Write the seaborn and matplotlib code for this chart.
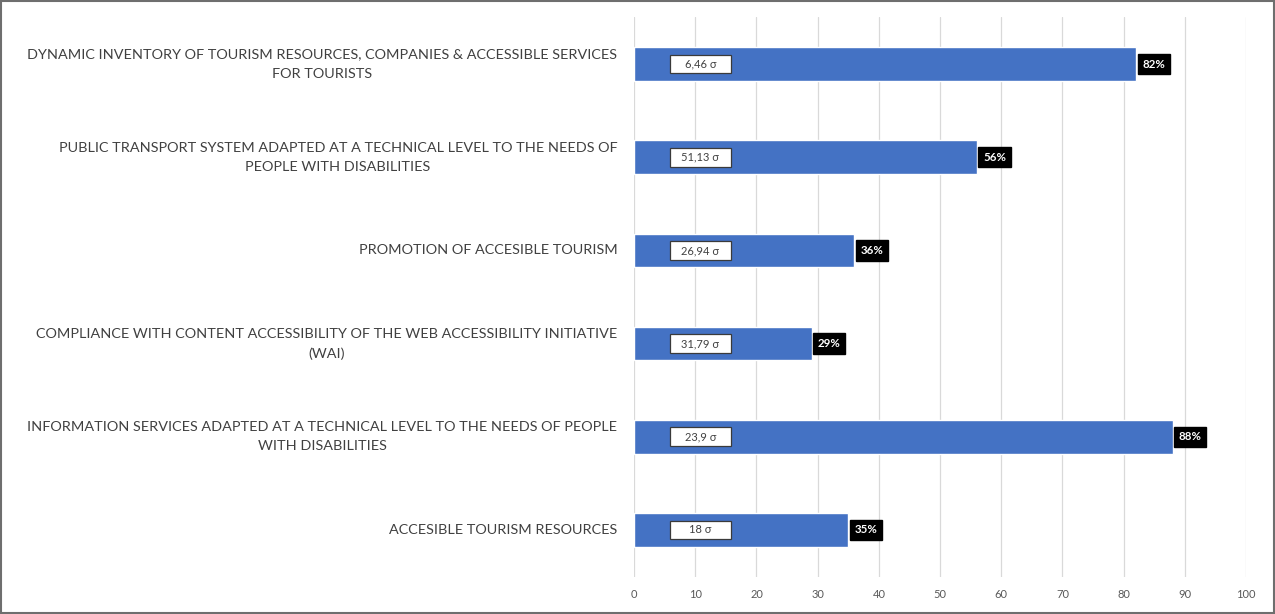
import matplotlib
matplotlib.use("Agg")
import matplotlib.pyplot as plt
from matplotlib.patches import Rectangle
import seaborn as sns
import pandas as pd

# Survey items, top to bottom
categories = [
    "DYNAMIC INVENTORY OF TOURISM RESOURCES, COMPANIES & ACCESSIBLE SERVICES\nFOR TOURISTS",
    "PUBLIC TRANSPORT SYSTEM ADAPTED AT A TECHNICAL LEVEL TO THE NEEDS OF\nPEOPLE WITH DISABILITIES",
    "PROMOTION OF ACCESIBLE TOURISM",
    "COMPLIANCE WITH CONTENT ACCESSIBILITY OF THE WEB ACCESSIBILITY INITIATIVE\n(WAI)",
    "INFORMATION SERVICES ADAPTED AT A TECHNICAL LEVEL TO THE NEEDS OF PEOPLE\nWITH DISABILITIES",
    "ACCESIBLE TOURISM RESOURCES",
]
percent = [82, 56, 36, 29, 88, 35]
sigma = ["6,46", "51,13", "26,94", "31,79", "23,9", "18"]
x_ticks = [0, 10, 20, 30, 40, 50, 60, 70, 80, 90, 100]

df = pd.DataFrame({"item": categories, "pct": percent, "sigma": sigma})

sns.set_theme(style="white")
plt.rcParams["font.family"] = ["Lato", "DejaVu Sans"]

fig = plt.figure(figsize=(12.75, 6.14), dpi=100)
ax = fig.add_axes([0.4973, 0.061, 0.4800, 0.9105])

sns.barplot(data=df, y="item", x="pct", orient="h", color="#4472C4",
            saturation=1, width=0.36, ax=ax, zorder=2)

ax.set_xlim(0, 100)
ax.set_xticks(x_ticks)
ax.set_xticklabels([str(t) for t in x_ticks], fontsize=8, color="#595959")
ax.tick_params(axis="x", length=0, pad=9)
ax.tick_params(axis="y", length=0, pad=12)
for lbl in ax.get_yticklabels():
    lbl.set_fontsize(10.4)
    lbl.set_color("#404040")
    lbl.set_multialignment("center")
    lbl.set_linespacing(1.72)
    lbl.set_verticalalignment("center")
ax.set_xlabel("")
ax.set_ylabel("")
ax.grid(axis="x", color="#D9D9D9", linewidth=0.9, zorder=0)
ax.set_axisbelow(True)
for s in ax.spines.values():
    s.set_visible(False)

# Standard deviation boxes inside each bar, and percentage tags after the bar end
box_x0, box_w, box_h = 5.9, 9.9, 0.20
for i, row in df.iterrows():
    ax.add_patch(Rectangle((box_x0, i - box_h / 2), box_w, box_h,
                           facecolor="white", edgecolor="#3A3A3A",
                           linewidth=0.9, zorder=3))
    ax.text(box_x0 + box_w / 2, i, f"{row['sigma']} σ", ha="center", va="center",
            fontsize=8, color="#404040", zorder=4,
            family=["Lato", "DejaVu Sans"])
    ax.annotate(f"{row['pct']}%", xy=(row["pct"], i), xytext=(4.5, 0),
                textcoords="offset points", ha="left", va="center",
                fontsize=8.3, fontweight="bold", color="white", zorder=4,
                bbox=dict(boxstyle="square,pad=0.4", facecolor="black",
                          edgecolor="black"))

# Outer frame
fig.patches.append(Rectangle((0.001, 0.001), 0.998, 0.998, transform=fig.transFigure,
                             fill=False, edgecolor="#6E6E6E", linewidth=1.5))

fig.savefig("out.png", dpi=100)
